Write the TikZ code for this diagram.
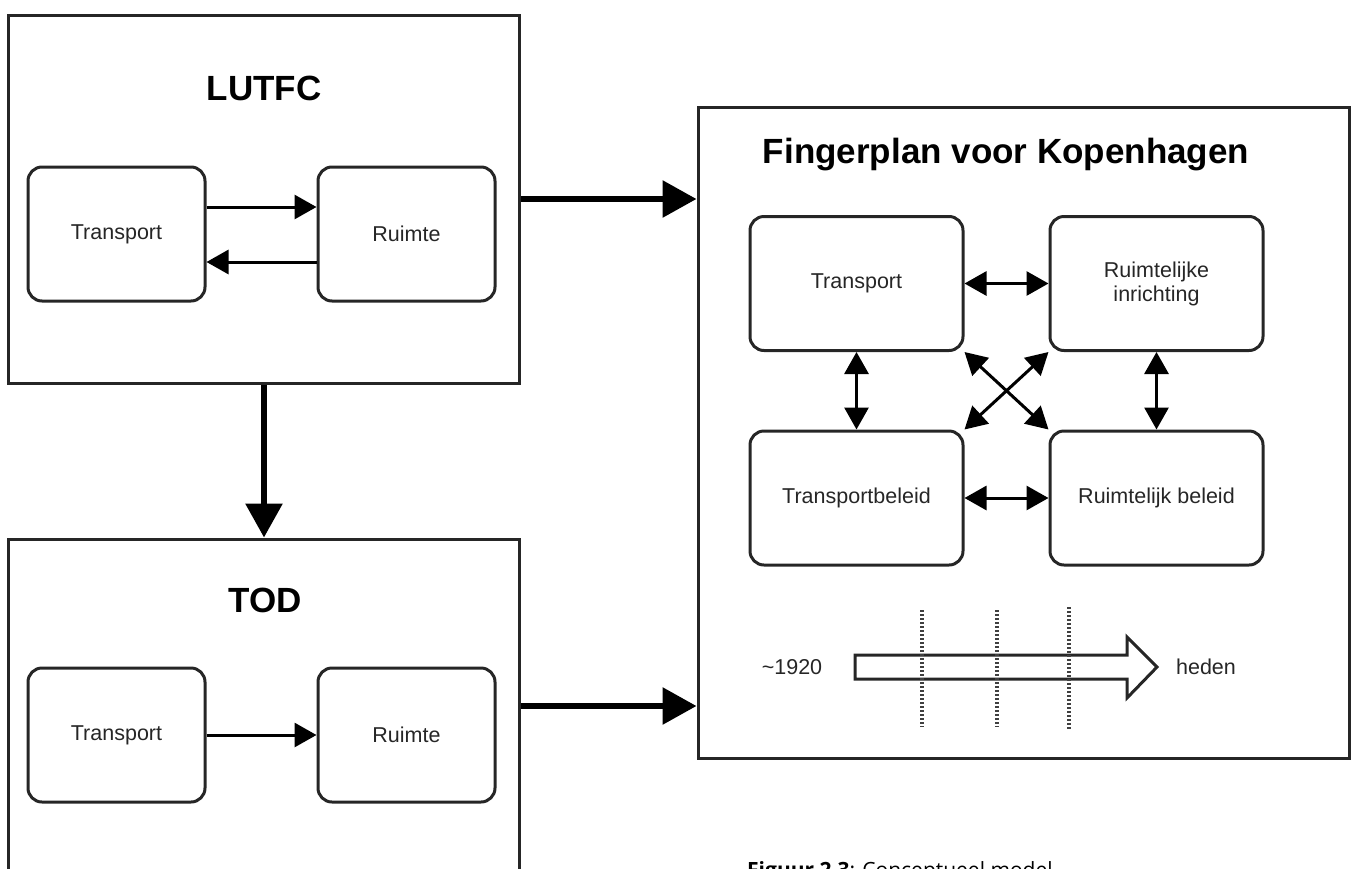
\documentclass[tikz,border=0pt]{standalone}
\usepackage{fontspec}
\setmainfont{Liberation Sans}
\newfontfamily\capfont{Open Sans}
\usetikzlibrary{arrows.meta}

\begin{document}
\begin{tikzpicture}[x=1pt, y=-1pt,
  frame/.style={draw=black!85, line width=3pt, inner sep=0pt},
  item/.style={draw=black!85, line width=3pt, rounded corners=14pt, minimum width=177pt, minimum height=134pt, align=center, text=black!85, font=\fontsize{21.5}{24}\selectfont},
  title/.style={anchor=base, font=\fontsize{35}{40}\selectfont\bfseries},
  label/.style={text=black!85, font=\fontsize{21.5}{24}\selectfont},
  thin/.style={line width=3pt, -{Triangle[length=22pt,width=24pt]}},
  both/.style={line width=3pt, {Triangle[length=22pt,width=24pt]}-{Triangle[length=22pt,width=24pt]}},
  thick/.style={line width=6pt, -{Triangle[length=34pt,width=36pt]}},
  tick/.style={draw=black!75, line width=3.5pt, dash pattern=on 2pt off 2pt}]
	\useasboundingbox (0,0) rectangle (1355,868);
	% LUTFC
	\node[frame, minimum width=511pt, minimum height=368pt] (lutfc) at (264,199) {};
	\node[title] at (264,100) {LUTFC};
	\node[item] (lt) at (116.5,234) {Transport};
	\node[item] (lr) at (406.5,234) {Ruimte};
	\draw[thin] ([yshift=27pt]lt.east) -- ([yshift=27pt]lr.west);
	\draw[thin] ([yshift=-28pt]lr.west) -- ([yshift=-28pt]lt.east);
	% TOD
	\node[frame, minimum width=511pt, minimum height=334pt] (tod) at (264,706) {};
	\node[title] at (265,612) {TOD};
	\node[item] (tt) at (116.5,735) {Transport};
	\node[item] (tr) at (406.5,735) {Ruimte};
	\draw[thin] (tt) -- (tr);
	% Fingerplan
	\node[frame, minimum width=651pt, minimum height=651pt] (fp) at (1023.5,432.5) {};
	\node[title] at (1006,163) {Fingerplan voor Kopenhagen};
	\node[item, minimum width=213pt] (ft) at (856.5,283.5) {Transport};
	\node[item, minimum width=213pt] (ri) at (1156.5,283.5) {Ruimtelijke\\inrichting};
	\node[item, minimum width=213pt] (tb) at (856.5,498) {Transportbeleid};
	\node[item, minimum width=213pt] (rb) at (1156.5,498) {Ruimtelijk beleid};
	\draw[both] (ft) -- (ri);
	\draw[both] (tb) -- (rb);
	\draw[both] (ft) -- (tb);
	\draw[both] (ri) -- (rb);
	\draw[both] (ft.south east) -- (rb.north west);
	\draw[both] (ri.south west) -- (tb.north east);
	% tijdlijn
	\draw[line width=3pt, draw=black!85, fill=white] (855,655) -- (1127,655) -- (1127,637) -- (1157,667) -- (1127,698) -- (1127,679) -- (855,679) -- cycle;
	\foreach \x/\a/\b in {922/610/727, 997/610/727, 1069/607/730}
	  \draw[tick] (\x,\a) -- (\x,\b);
	\node[label] (start) at (792,667) {\textasciitilde1920};
	\node[label] (end) at (1206,667) {heden};
	% verbindingen
	\draw[thick] (lutfc) -- (tod);
	\draw[thick] (lutfc.east) -- (lutfc.east -| fp.west);
	\draw[thick] (tod.east) -- (tod.east -| fp.west);
	\node[anchor=north west, inner sep=0pt, font=\capfont\fontsize{21}{25}\selectfont] (cap) at (747,861) {\textbf{Figuur 2.3}: Conceptueel model};
\end{tikzpicture}
\end{document}
